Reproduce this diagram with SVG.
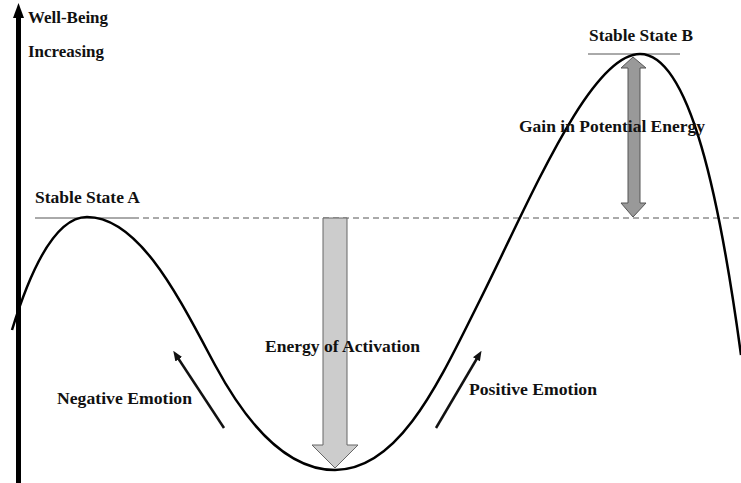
<svg xmlns="http://www.w3.org/2000/svg" width="741" height="483" viewBox="0 0 741 483">
<defs>
<style>
.t{font-family:"Liberation Serif","Times New Roman",serif;font-weight:bold;font-size:17.5px;fill:#111}
.ref{stroke:#555;stroke-width:1;fill:none}
.curve{stroke:#000;stroke-width:2.5;fill:none}
.em{stroke:#111;stroke-width:2.5;fill:none}
</style>
<marker id="ah" viewBox="0 0 10 10" refX="5" refY="5" markerWidth="4" markerHeight="4" orient="auto"><path d="M0,1 L10,5 L0,9 z" fill="#111"/></marker>
</defs>
<rect width="741" height="483" fill="#fff"/>
<g id="axis">
<rect x="16" y="16" width="5" height="467" fill="#000"/>
<path d="M18.5,3 L24,18 L13,18 z" fill="#000"/>
<text class="t" x="28" y="23" textLength="80" lengthAdjust="spacingAndGlyphs">Well-Being</text>
<text class="t" x="28" y="57" textLength="76" lengthAdjust="spacingAndGlyphs">Increasing</text>
</g>
<g id="reference-lines">
<line class="ref" x1="35" y1="218" x2="133" y2="218"/>
<line class="ref" x1="133" y1="218" x2="741" y2="218" stroke-dasharray="6,4"/>
<line class="ref" x1="588" y1="54" x2="680" y2="54"/>
</g>
<g id="curve">
<path class="curve" d="M12,330 C35,255 60,217 87,217 C140,217 180,300 215,365 C250,430 290,470 335,470 C400,470 440,380 480,300 C530,200 590,54 640,54 C690,54 720,200 741,355"/>
</g>
<g id="stable-a"><text class="t" x="35" y="203" textLength="105" lengthAdjust="spacingAndGlyphs">Stable State A</text></g>
<g id="stable-b"><text class="t" x="589" y="41" textLength="104" lengthAdjust="spacingAndGlyphs">Stable State B</text></g>
<g id="energy-activation">
<path d="M323,218 L347,218 L347,445 L358,445 L335,468 L312,445 L323,445 z" fill="#cccccc" stroke="#666" stroke-width="1"/>
<text class="t" x="265" y="352" textLength="155" lengthAdjust="spacingAndGlyphs">Energy of Activation</text>
</g>
<g id="gain">
<path d="M633,57 L646,68 L640,68 L640,203 L646,203 L633,217 L621,203 L628,203 L628,68 L621,68 z" fill="#999999" stroke="#555" stroke-width="1"/>
<text class="t" x="519" y="132" textLength="186" lengthAdjust="spacingAndGlyphs">Gain in Potential Energy</text>
</g>
<g id="connectors">
<line class="em" x1="224" y1="428" x2="176" y2="355" marker-end="url(#ah)"/>
<line class="em" x1="436" y1="428" x2="479" y2="355" marker-end="url(#ah)"/>
</g>
<g id="negative"><text class="t" x="57" y="404" textLength="135" lengthAdjust="spacingAndGlyphs">Negative Emotion</text></g>
<g id="positive"><text class="t" x="469" y="395" textLength="128" lengthAdjust="spacingAndGlyphs">Positive Emotion</text></g>
</svg>
